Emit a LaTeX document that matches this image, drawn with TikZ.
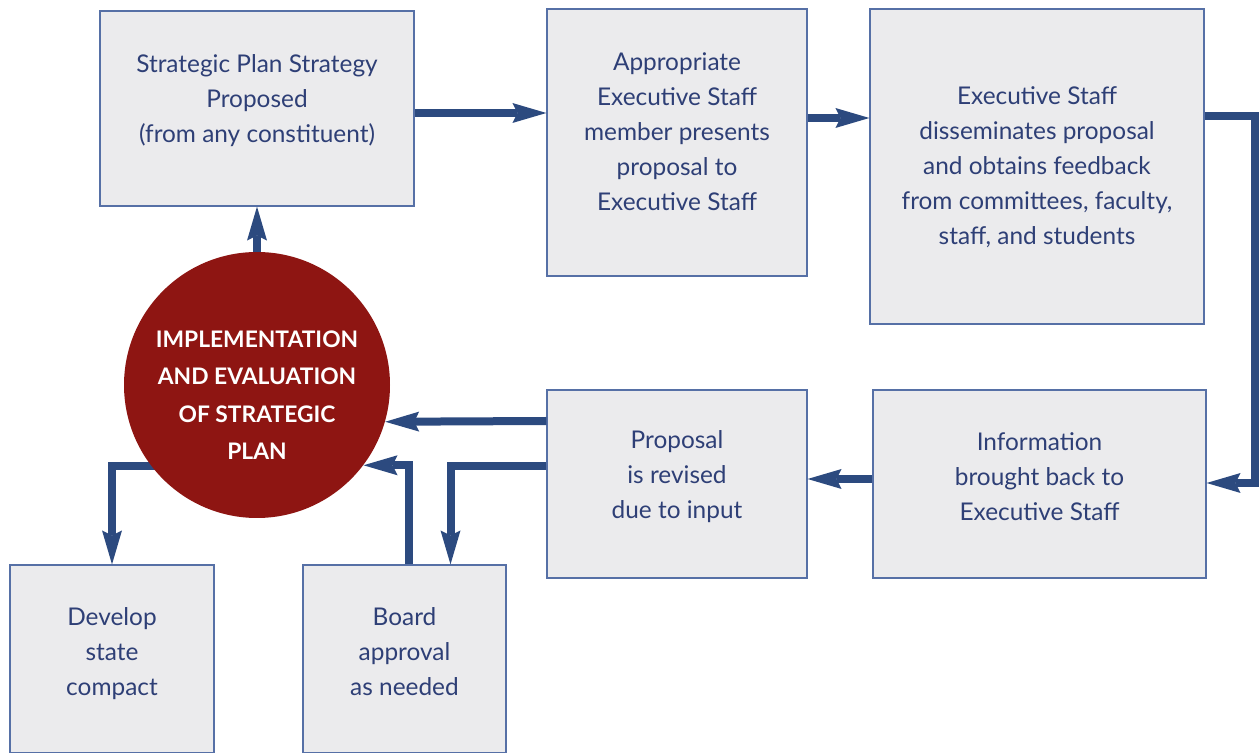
\documentclass[tikz,border=0pt]{standalone}
\usepackage{fontspec}
\setmainfont{Lato}
\usetikzlibrary{arrows.meta}

\definecolor{flowblue}{HTML}{2C4A7F}
\definecolor{boxedge}{HTML}{5670A6}
\definecolor{boxfill}{HTML}{EBEBED}
\definecolor{planred}{HTML}{8E1512}
\definecolor{textblue}{HTML}{2E3F76}

\tikzset{
  stepbox/.style={draw=boxedge, line width=0.6pt, fill=boxfill, inner sep=0pt},
  steptext/.style={text=textblue, align=center, inner sep=0pt,
    font=\fontsize{12.2}{17.5}\selectfont},
  planbox/.style={circle, fill=planred, inner sep=0pt, minimum size=133pt},
  plantext/.style={text=white, align=center, inner sep=0pt,
    font=\fontsize{11.4}{18.75}\selectfont\bfseries},
  flow/.style={draw=flowblue, line width=4pt,
    -{Stealth[length=17pt,width=10pt,inset=2.5pt,line width=0pt]}},
}

\begin{document}
\begin{tikzpicture}[x=0.5pt,y=-0.5pt]
\useasboundingbox (0,0) rectangle (1260,753);

% top row
\node[stepbox, minimum width=157pt, minimum height=97.5pt] (propose) at (257,108.5) {};
\node[steptext] (proposetext) at (257,100.5)
  {Strategic Plan Strategy\\Proposed\\(from any constituent)};
\node[stepbox, minimum width=130pt, minimum height=133.5pt] (present) at (677,142.5) {};
\node[steptext] (presenttext) at (677,131.5)
  {Appropriate\\Executive Staff\\member presents\\proposal to\\Executive Staff};
\node[stepbox, minimum width=167pt, minimum height=157.5pt] (feedback) at (1037,166.5) {};
\node[steptext] (feedbacktext) at (1037,167)
  {Executive Staff\\disseminates proposal\\and obtains feedback\\from committees, faculty,\\staff, and students};

% middle row
\node[stepbox, minimum width=166.5pt, minimum height=94pt] (info) at (1039.5,484) {};
\node[steptext] (infotext) at (1039.5,477)
  {Information\\brought back to\\Executive Staff};
\node[stepbox, minimum width=130pt, minimum height=94pt] (revise) at (677,484) {};
\node[steptext] (revisetext) at (677,477)
  {Proposal\\is revised\\due to input};

% bottom row
\node[stepbox, minimum width=102pt, minimum height=94pt] (compact) at (112,659) {};
\node[steptext] (compacttext) at (112,654)
  {Develop\\state\\compact};
\node[stepbox, minimum width=101.5pt, minimum height=94pt] (board) at (404.5,659) {};
\node[steptext] (boardtext) at (404.5,652)
  {Board\\approval\\as needed};

% connectors
\draw[flow] (propose.east |- 0,113) -- (present.west |- 0,113);
\draw[flow] (present.east |- 0,118) -- (feedback.west |- 0,118);
\draw[flow] (feedback.east |- 0,116) -- ++(50,0) |- (info.east |- 0,483);
\draw[flow] (info.west |- 0,479) -- (revise.east |- 0,479);
\draw[flow] (revise.west |- 0,466) -| ([xshift=23pt]board.north);
\draw[flow] (257,466) -| (compact.north);

% circle
\node[planbox] (plan) at (257,385) {};
\node[plantext] (plantext) at (257,395)
  {IMPLEMENTATION\\AND EVALUATION\\OF STRATEGIC\\PLAN};

\draw[flow] (revise.west |- 0,421) -- (plan.-16);
\draw[flow] ([xshift=2pt]board.north) |- (plan.-37.5);
\draw[flow] (plan.north) -- (propose.south);

\end{tikzpicture}
\end{document}
